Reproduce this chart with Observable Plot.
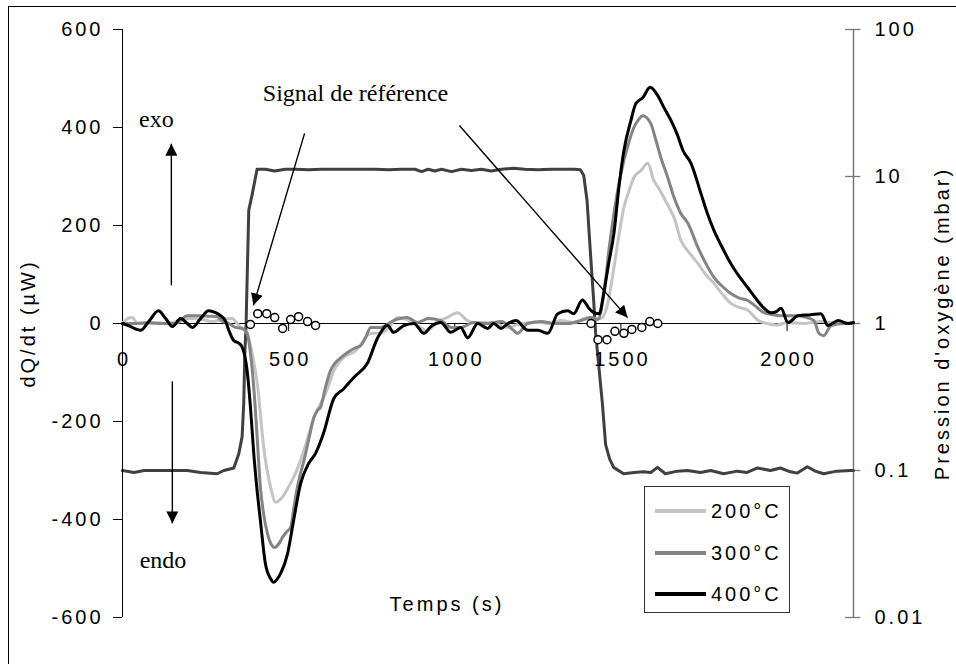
<!DOCTYPE html>
<html>
<head>
<meta charset="utf-8">
<script src="https://cdn.jsdelivr.net/npm/d3@7"></script>
<script src="https://cdn.jsdelivr.net/npm/@observablehq/plot@0.6"></script>
<style>
  body { margin: 0; background: #fff; }
  #wrap { position: relative; width: 956px; height: 664px; overflow: hidden; background: #fff;
          font-family: "Liberation Sans", Arial, sans-serif; }
  #wrap svg { position: absolute; left: 0; top: 0; }
  #frame { position: absolute; left: 8px; top: 6px; width: 1000px; height: 700px;
           border-left: 1.5px solid #000; border-top: 1.5px solid #000; }
  #legend { position: absolute; left: 644px; top: 486px; width: 146px; height: 127px; box-sizing: border-box;
            border: 1px solid #333; background: #fff; font-size: 20px; letter-spacing: 3px; color: #000; }
  .row { position: absolute; left: 0; height: 30px; width: 140px; }
  .row .ln { position: absolute; left: 10px; top: 13px; width: 51px; height: 4px; }
  .row .lb { position: absolute; left: 66px; top: 2px; line-height: 26px; }
</style>
</head>
<body>
<div id="wrap"><div id="frame"></div></div>
<script>
// ---------------- data ----------------
const xTicks = [0, 500, 1000, 1500, 2000];
const yTicks = [-600, -400, -200, 0, 200, 400, 600];
const pTicks = [0.01, 0.1, 1, 10, 100];
const pTickLabels = ["0.01", "0.1", "1", "10", "100"];

// Oxygen pressure (mbar), right log axis
const pT = [0,35,65,120,160,195,235,285,305,335,350,360,365,368,372,380,390,405,430,458,490,520,560,600,640,680,720,760,800,840,880,900,920,940,960,990,1020,1050,1080,1110,1140,1177,1210,1250,1290,1330,1360,1378,1388,1398,1408,1418,1424,1430,1444,1454,1466,1478,1508,1540,1568,1590,1610,1634,1670,1700,1740,1770,1809,1850,1880,1911,1950,1980,2010,2031,2061,2085,2110,2150,2191,2200];
const pV = [0.100,0.097,0.100,0.100,0.100,0.100,0.097,0.095,0.100,0.104,0.13,0.17,0.29,0.62,1.0,5.9,7.5,11.2,11.2,10.9,11.2,11.2,11.1,11.2,11.2,11.2,11.2,11.2,11.1,11.2,11.2,10.8,11.2,10.9,11.2,10.8,11.2,11.0,11.2,10.9,11.2,11.4,11.2,11.1,11.2,11.2,11.2,11.1,10.2,6.9,3.1,1.43,0.86,0.62,0.29,0.15,0.12,0.105,0.095,0.097,0.098,0.097,0.105,0.095,0.099,0.1,0.097,0.1,0.095,0.099,0.097,0.104,0.1,0.104,0.098,0.096,0.106,0.099,0.095,0.099,0.1,0.1];

// dQ/dt (µW) — 200°C
const t200 = [0,15,30,45,100,150,200,240,270,300,330,345,360,375,390,407,425,446,461,473,485,500,515,530,546,561,576,591,606,621,636,651,666,681,696,711,726,740,755,776,800,827,870,917,950,977,1008,1038,1070,1110,1158,1200,1250,1290,1318,1358,1400,1420,1440,1460,1479,1494,1509,1524,1539,1560,1581,1599,1615,1629,1645,1660,1681,1705,1732,1755,1780,1805,1831,1855,1882,1900,1913,1940,1970,2000,2050,2100,2150,2200];
const v200 = [0,10,12,0,0,2,10,8,4,8,10,0,-10,-20,-60,-130,-253,-335,-365,-360,-351,-333,-314,-290,-259,-225,-192,-170,-151,-125,-96,-80,-69,-63,-59,-48,-35,-22,-20,-20,-10,12,4,-14,5,12,22,6,0,2,-8,0,2,0,6,2,12,10,10,40,114,180,237,270,298,312,327,292,275,257,237,216,169,145,122,100,82,60,41,33,27,15,6,0,-3,2,0,4,0,2];

// 300°C
const t300 = [0,40,80,120,160,195,230,260,285,300,320,340,360,375,385,395,405,415,425,436,447,458,470,481,494,506,516,526,536,546,561,576,586,596,611,626,641,660,677,700,717,732,747,776,816,857,888,920,958,990,1018,1057,1099,1140,1177,1189,1219,1260,1300,1340,1380,1410,1430,1449,1464,1479,1494,1509,1524,1539,1552,1566,1590,1605,1620,1640,1660,1680,1702,1732,1756,1780,1805,1831,1856,1882,1906,1931,1957,1982,2010,2033,2060,2081,2096,2110,2133,2172,2200];
const v300 = [0,0,2,0,0,16,16,15,14,5,0,-8,-10,-20,-60,-130,-230,-334,-390,-428,-450,-457,-450,-437,-425,-416,-375,-335,-305,-280,-235,-192,-178,-171,-130,-96,-80,-68,-59,-50,-45,-28,-8,-8,6,12,2,10,6,-8,-8,2,0,4,-14,-20,0,4,0,0,6,12,8,61,150,224,285,333,370,400,415,424,408,375,339,300,257,225,204,155,122,94,76,61,52,47,35,22,18,16,16,16,12,6,-20,-25,-4,0,0];

// 400°C
const t400 = [0,20,54,80,108,130,150,175,195,210,235,259,280,295,310,320,335,350,360,375,385,395,405,415,430,445,455,465,476,497,515,536,560,581,605,636,666,696,738,768,798,816,845,877,907,930,958,988,1018,1039,1069,1099,1117,1139,1160,1184,1220,1250,1280,1310,1340,1358,1384,1405,1419,1435,1448,1463,1479,1494,1509,1530,1545,1566,1588,1611,1630,1651,1670,1687,1711,1741,1760,1780,1805,1831,1855,1882,1905,1928,1952,1967,1982,2003,2033,2072,2102,2123,2154,2184,2200];
const v400 = [0,-5,-14,5,26,10,-6,10,0,-8,10,26,22,16,5,-14,-35,-40,-48,-96,-170,-265,-340,-402,-490,-520,-528,-522,-510,-469,-402,-327,-286,-265,-224,-153,-133,-110,-80,-29,-4,-18,-5,0,-20,-5,2,-18,-8,-29,0,-10,0,-10,0,6,-14,-14,-20,20,26,20,48,30,22,20,61,122,184,278,353,414,449,461,482,465,440,414,385,353,327,265,225,190,155,122,97,73,52,33,22,24,31,2,16,18,20,-4,6,0,2];

// Reference signal (open circles)
const refT = [385,407,434,458,482,506,530,557,581,1410,1431,1458,1482,1509,1533,1563,1587,1611];
const refV = [-2,20,20,12,-10,8,14,4,-4,0,-33,-33,-16,-20,-12,-8,4,0];

// Annotations (data coordinates)
const noteText = ["Signal de référence", "exo", "endo"];
const noteT = [701, 102, 122];
const noteV = [469, 416, -484];
const arrowT1 = [147, 150, 548, 1014];
const arrowV1 = [78, -118, 388, 404];
const arrowT2 = [147, 150, 394, 1520];
const arrowV2 = [367, -408, 37, 12];

const seriesNames = ["200°C", "300°C", "400°C"];
const seriesColors = ["#c4c4c4", "#848484", "#000000"];

// ---------------- build ----------------
const rows = (T, V) => T.map((t, i) => ({t, v: V[i]}));
const W = 956, H = 664;
const M = {marginLeft: 122, marginRight: 103, marginTop: 29, marginBottom: 47};
const XD = [0, 2200];
const sansFont = "Liberation Sans, Arial, sans-serif";
const wrap = document.getElementById("wrap");

try {
  // Layer 1: oxygen pressure, log scale, right axis
  const pPlot = Plot.plot({
    width: W, height: H, ...M,
    x: {domain: XD, axis: null},
    y: {type: "log", domain: [0.01, 100], axis: null},
    style: {background: "transparent", fontFamily: sansFont, fontSize: "20px", letterSpacing: "3px", color: "#000", overflow: "visible"},
    marks: [
      Plot.ruleX([XD[1]], {stroke: "#777", strokeWidth: 1.5}),
      Plot.ruleY(pTicks, {y: d => d, x1: XD[1] - 24, x2: XD[1] + 22, stroke: "#777", strokeWidth: 1.3}),
      Plot.text(pTicks, {x: () => XD[1], y: d => d, text: (d, i) => pTickLabels[i], dx: 21, textAnchor: "start", fontSize: 20, fill: "#000"}),
      Plot.text(["Pression d'oxygène (mbar)"], {frameAnchor: "right", textAnchor: "middle", dx: 89, rotate: -90, fontSize: 20, fill: "#000"}),
      Plot.line(rows(pT, pV), {x: "t", y: "v", stroke: "#404040", strokeWidth: 3, strokeLinejoin: "round"})
    ]
  });
  wrap.appendChild(pPlot);

  // Layer 2: dQ/dt series, left axis, x axis through 0
  const tickUnits = 8 * 1200 / 588;
  const mPlot = Plot.plot({
    width: W, height: H, ...M,
    x: {domain: XD, axis: null},
    y: {domain: [-600, 600], axis: null},
    style: {background: "transparent", fontFamily: sansFont, fontSize: "20px", letterSpacing: "3px", color: "#000", overflow: "visible"},
    marks: [
      Plot.ruleX([0], {stroke: "#000", strokeWidth: 1}),
      Plot.ruleY([0], {stroke: "#000", strokeWidth: 1}),
      Plot.axisY(yTicks, {anchor: "left", tickSize: 9, tickPadding: 10, fontSize: 20, label: null, tickFormat: d => String(d), stroke: "#000", fill: "#000"}),
      Plot.ruleX(xTicks, {x: d => d, y1: 0, y2: -tickUnits, stroke: "#000"}),
      Plot.text(xTicks, {x: d => d, y: () => 0, dy: 36, dx: 1.5, text: d => String(d), fontSize: 20, fill: "#000"}),
      Plot.text(["Temps (s)"], {frameAnchor: "bottom", textAnchor: "middle", dx: -41, dy: -7, fontSize: 20, fill: "#000"}),
      Plot.text(["dQ/dt (µW)"], {frameAnchor: "left", textAnchor: "middle", dx: -94, rotate: -90, fontSize: 20, fill: "#000"}),
      Plot.line(rows(t200, v200), {x: "t", y: "v", stroke: seriesColors[0], strokeWidth: 3, curve: "monotone-x"}),
      Plot.line(rows(t300, v300), {x: "t", y: "v", stroke: seriesColors[1], strokeWidth: 3, curve: "monotone-x"}),
      Plot.line(rows(t400, v400), {x: "t", y: "v", stroke: seriesColors[2], strokeWidth: 3, curve: "monotone-x"}),
      Plot.dot(rows(refT, refV), {x: "t", y: "v", r: 4, stroke: "#000", strokeWidth: 1.5, fill: "#fff"})
    ]
  });
  wrap.appendChild(mPlot);

  // Layer 3: annotations
  function arrowHead(color) {
    const ns = "http://www.w3.org/2000/svg";
    const m = document.createElementNS(ns, "marker");
    m.setAttribute("viewBox", "-12 -6 12 12");
    m.setAttribute("markerWidth", "12");
    m.setAttribute("markerHeight", "12");
    m.setAttribute("markerUnits", "userSpaceOnUse");
    m.setAttribute("orient", "auto");
    m.setAttribute("refX", "0");
    m.setAttribute("refY", "0");
    const p = document.createElementNS(ns, "path");
    p.setAttribute("d", "M-12,-6L0,0L-12,6Z");
    p.setAttribute("fill", color);
    p.setAttribute("stroke", "none");
    m.appendChild(p);
    return m;
  }
  function makeAnnot(marker) {
    return Plot.plot({
      width: W, height: H, ...M,
      x: {domain: XD, axis: null},
      y: {domain: [-600, 600], axis: null},
      style: {background: "transparent", overflow: "visible"},
      marks: [
        Plot.link(arrowT1, {x1: arrowT1, y1: arrowV1, x2: arrowT2, y2: arrowV2, stroke: "#000", strokeWidth: 1.4, markerEnd: marker}),
        Plot.text(noteText, {x: noteT, y: noteV, text: d => d, fontFamily: "Liberation Serif, Times New Roman, serif", fontSize: 24, fill: "#000"})
      ]
    });
  }
  let aPlot;
  try { aPlot = makeAnnot(arrowHead); } catch (e) { aPlot = makeAnnot("arrow"); }
  wrap.appendChild(aPlot);

  // Legend
  const lg = document.createElement("div");
  lg.id = "legend";
  seriesNames.forEach((name, i) => {
    const r = document.createElement("div");
    r.className = "row";
    r.style.top = (9 + i * 41.5) + "px";
    const ln = document.createElement("div");
    ln.className = "ln";
    ln.style.background = seriesColors[i];
    const lb = document.createElement("div");
    lb.className = "lb";
    lb.textContent = name;
    r.appendChild(ln); r.appendChild(lb);
    lg.appendChild(r);
  });
  wrap.appendChild(lg);
} catch (err) {
  const pre = document.createElement("pre");
  pre.textContent = String(err && err.stack || err);
  document.body.appendChild(pre);
}
</script>
</body>
</html>
